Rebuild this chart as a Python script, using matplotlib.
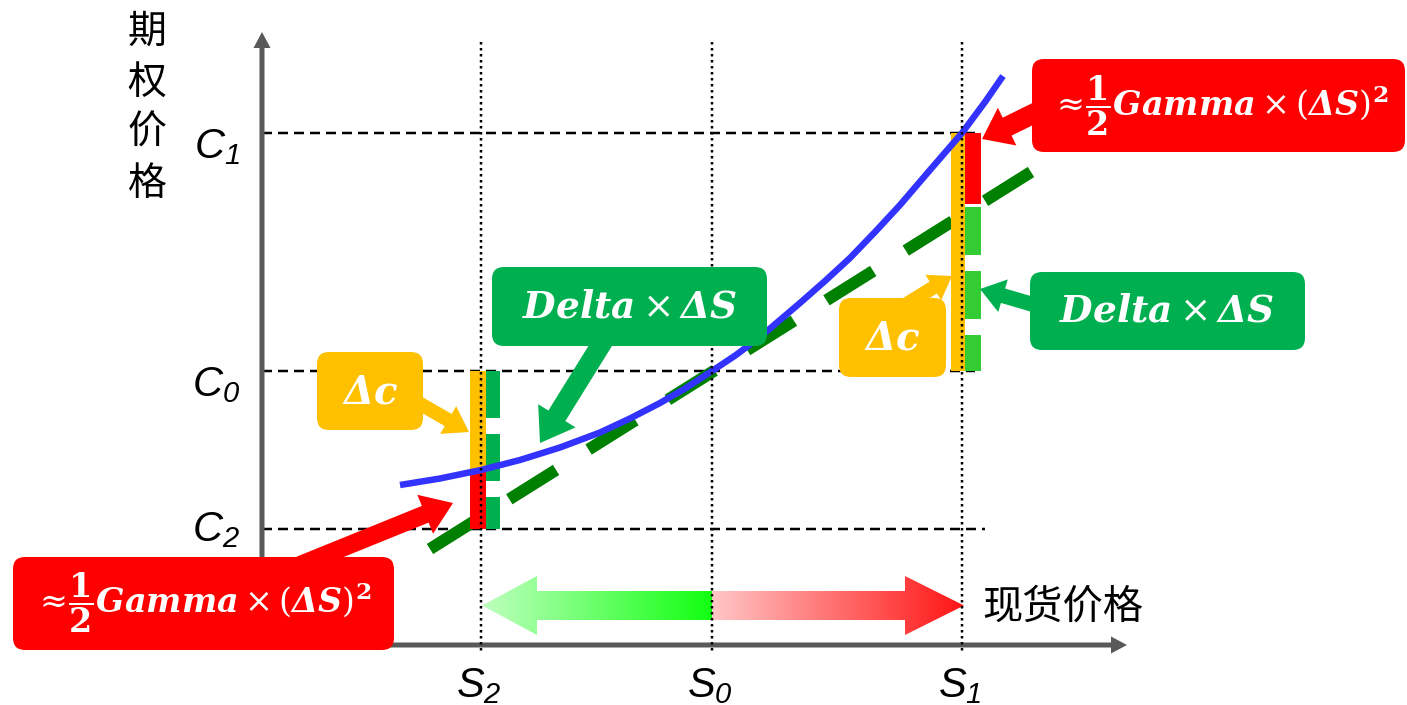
import numpy as np
import matplotlib
matplotlib.use('Agg')
import matplotlib.pyplot as plt
from matplotlib.patches import FancyBboxPatch, FancyArrow, Polygon

plt.rcParams['mathtext.fontset'] = 'custom'
plt.rcParams['mathtext.rm'] = 'Liberation Sans:italic'
plt.rcParams['mathtext.it'] = 'Liberation Sans:italic'
plt.rcParams['mathtext.bf'] = 'Liberation Sans:bold'
CJK = ['Noto Sans CJK SC', 'DejaVu Sans']

# ---------------- data (diagram units = pixels of the reference) ----------------
S_labels = [r'$S_2$', r'$S_0$', r'$S_1$']
S_pos = [481, 712, 962]
C_labels = [r'$C_2$', r'$C_0$', r'$C_1$']
C_pos = [529, 371, 133]
C_label_base = [541, 396, 158]
C_line_end = [985, 975, 975]

curve_x = [400, 440, 481, 520, 560, 600, 630, 660, 686, 712, 736, 760, 780,
           800, 825, 850, 875, 900, 930, 962, 985, 1003]
curve_y = [485, 478.5, 470, 460, 447.5, 432.5, 418.5, 403, 388, 371, 355, 337, 320,
           303, 281, 258, 232, 205, 170, 133, 102, 76]

tangent_x = [430, 1031]
tangent_y = [549, 172]

# value of the curve / tangent at S2 and S1
curve_at_S2 = 470
tangent_at_S1 = 204
delta_top_S1 = 207

y_axis_title = ['期', '权', '价', '格']
x_axis_title = '现货价格'

gamma_text = r'$\approx\!\dfrac{\mathbf{1}}{\mathbf{2}}\mathbfit{Gamma}\times(\mathbfit{\Delta S})^{\mathbf{2}}$'
delta_text = r'$\mathbfit{Delta}\times\mathbfit{\Delta S}$'
dc_text = r'$\mathbfit{\Delta c}$'

ORANGE = '#FFC000'
GREEN_BOX = '#00B050'
GREEN_LIGHT = '#33CC33'
RED = '#FF0000'
BLUE = '#3333FF'
DKGREEN = '#008000'
AXIS = '#595959'
PX = 0.72  # px -> pt at 100 dpi

fig = plt.figure(figsize=(14.07, 7.05), dpi=100)
ax = fig.add_axes([0, 0, 1, 1])
ax.set_xlim(0, 1407)
ax.set_ylim(705, 0)
ax.axis('off')

# axes arrows
ax.add_patch(FancyArrow(262, 648, 0, 32 - 648, width=5, head_width=17, head_length=16,
                        length_includes_head=True, color=AXIS, lw=0, zorder=3))
ax.add_patch(FancyArrow(259, 645, 1127 - 259, 0, width=5, head_width=17, head_length=16,
                        length_includes_head=True, color=AXIS, lw=0, zorder=3))

# dotted verticals
for x in S_pos:
    ax.plot([x, x], [42, 652], color='black', lw=2.5 * PX, linestyle=(0, (1, 1.4)),
            dash_capstyle='butt', zorder=8)
# dashed horizontals
for y, xe in zip(C_pos, C_line_end):
    ax.plot([262, xe], [y, y], color='black', lw=2.5 * PX, linestyle=(0, (4, 2.4)),
            dash_capstyle='butt', zorder=2)

# tangent (delta) line
ax.plot(tangent_x, tangent_y, color=DKGREEN, lw=12 * PX, linestyle=(0, (4.6, 3.2)),
        dash_capstyle='butt', zorder=4)

# bars at S2
ax.bar(478, curve_at_S2 - C_pos[1], bottom=C_pos[1], width=16, color=ORANGE, zorder=5)
ax.bar(478, C_pos[0] - curve_at_S2, bottom=curve_at_S2, width=16, color=RED, zorder=5)
ax.plot([493, 493], [C_pos[1], C_pos[0]], color=GREEN_BOX, lw=14 * PX,
        linestyle=(0, (47 / 14, 16 / 14)), dash_capstyle='butt', zorder=5)
# bars at S1
ax.bar(958, C_pos[1] - C_pos[2], bottom=C_pos[2], width=14, color=ORANGE, zorder=5)
ax.bar(973, tangent_at_S1 - C_pos[2], bottom=C_pos[2], width=16, color=RED, zorder=5)
ax.plot([973, 973], [delta_top_S1, C_pos[1]], color=GREEN_LIGHT, lw=16 * PX,
        linestyle=(0, (48 / 16, 16 / 16)), dash_capstyle='butt', zorder=5)

# option price curve
ax.plot(curve_x, curve_y, color=BLUE, lw=6.5 * PX, solid_capstyle='butt',
        solid_joinstyle='round', zorder=6)

# gradient double arrow
def grad_poly(pts, c0, c1, x0, x1):
    poly = Polygon(pts, closed=True, facecolor='none', edgecolor='none')
    ax.add_patch(poly)
    t = np.linspace(0, 1, 256)
    img = np.zeros((1, 256, 3))
    for k in range(3):
        img[0, :, k] = c0[k] + (c1[k] - c0[k]) * t
    im = ax.imshow(img, extent=(x0, x1, 640, 570), aspect='auto', zorder=3,
                   interpolation='bilinear')
    im.set_clip_path(poly)

yc, sh, hh = 605.5, 14.5, 29.5
left_pts = [(482, yc), (537, yc - hh), (537, yc - sh), (712, yc - sh), (712, yc + sh),
            (537, yc + sh), (537, yc + hh)]
right_pts = [(712, yc - sh), (905, yc - sh), (905, yc - hh), (964, yc), (905, yc + hh),
             (905, yc + sh), (712, yc + sh)]
grad_poly(left_pts, (0.75, 1.0, 0.75), (0.07, 1.0, 0.07), 482, 712)
grad_poly(right_pts, (1.0, 0.78, 0.78), (1.0, 0.08, 0.08), 712, 964)
ax.set_xlim(0, 1407)
ax.set_ylim(705, 0)

# callout boxes + arrows
def box(x0, y0, x1, y1, color):
    ax.add_patch(FancyBboxPatch((x0, y0), x1 - x0, y1 - y0,
                                boxstyle='round,pad=0,rounding_size=12',
                                facecolor=color, edgecolor='none', zorder=9))

def arrow(x0, y0, x1, y1, w, hw, hl, color):
    ax.add_patch(FancyArrow(x0, y0, x1 - x0, y1 - y0, width=w, head_width=hw,
                            head_length=hl, length_includes_head=True,
                            color=color, lw=0, zorder=8.5))

# orange
box(317, 352, 423, 430, ORANGE)
arrow(410, 398, 469, 432, 14, 32, 24, ORANGE)
ax.text(370, 392, dc_text, color='white', fontsize=28, ha='center', va='center',
        math_fontfamily='dejavuserif', zorder=10)
box(839, 298, 946, 377, ORANGE)
arrow(905, 305, 952, 276, 14, 30, 22, ORANGE)
ax.text(892, 339, dc_text, color='white', fontsize=28, ha='center', va='center',
        math_fontfamily='dejavuserif', zorder=10)
# green
box(492, 267, 767, 346, GREEN_BOX)
arrow(607, 335, 540, 443, 20, 44, 32, GREEN_BOX)
ax.text(630, 307, delta_text, color='white', fontsize=27, ha='center', va='center',
        math_fontfamily='dejavuserif', zorder=10)
box(1030, 272, 1305, 350, GREEN_BOX)
arrow(1045, 308, 980, 289, 15, 34, 24, GREEN_BOX)
ax.text(1167, 311, delta_text, color='white', fontsize=27, ha='center', va='center',
        math_fontfamily='dejavuserif', zorder=10)
# red
box(1032, 59, 1405, 152, RED)
arrow(1045, 108, 982, 139, 20, 42, 28, RED)
ax.text(1219, 106, gamma_text, color='white', fontsize=24, ha='center', va='center',
        math_fontfamily='dejavuserif', zorder=10)
box(13, 557, 394, 650, RED)
arrow(300, 565, 453, 503, 18, 42, 30, RED)
ax.text(202, 603, gamma_text, color='white', fontsize=24, ha='center', va='center',
        math_fontfamily='dejavuserif', zorder=10)

# axis labels
for lab, x in zip(S_labels, S_pos):
    ax.text(x - 2, 697, lab, fontsize=30, ha='center', va='baseline', zorder=10)
for lab, yb in zip(C_labels, C_label_base):
    ax.text(240, yb, lab, fontsize=30, ha='right', va='baseline', zorder=10)
for i, ch in enumerate(y_axis_title):
    ax.text(147, 32 + i * 50.5, ch, fontsize=28, family=CJK, ha='center', va='center')
ax.text(1063, 607, x_axis_title, fontsize=29, family=CJK, ha='center', va='center')

fig.savefig('out.png', dpi=100)
